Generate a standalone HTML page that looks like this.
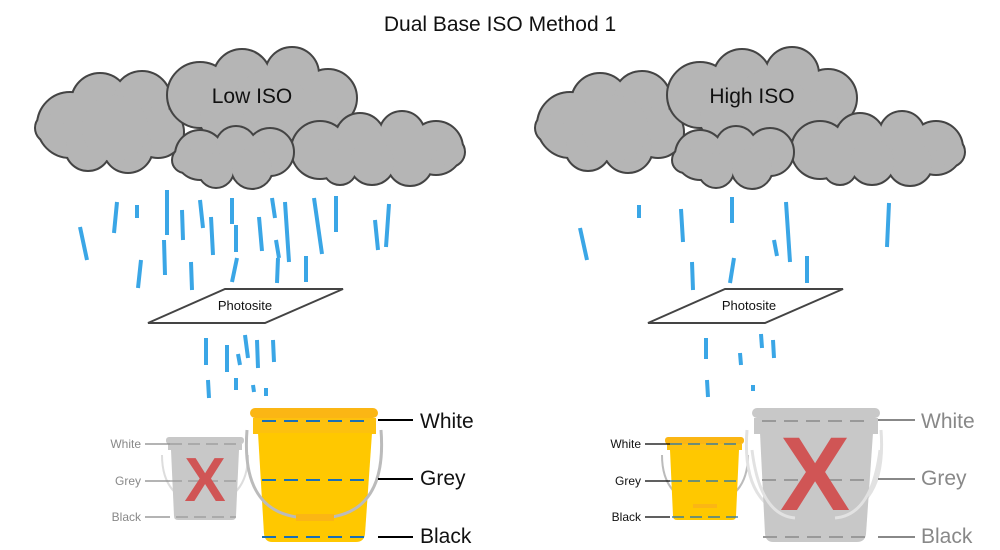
<!DOCTYPE html>
<html><head><meta charset="utf-8"><style>
html,body{margin:0;padding:0;background:#fff;}
svg{display:block;font-family:"Liberation Sans",sans-serif;}
</style></head><body>
<svg width="1000" height="550" viewBox="0 0 1000 550" xmlns="http://www.w3.org/2000/svg">
<defs>
<g id="cA"><circle cx="70" cy="125" r="32"/><circle cx="100" cy="102" r="28"/><circle cx="142" cy="100" r="28"/><circle cx="158" cy="132" r="25"/><circle cx="128" cy="148" r="24"/><circle cx="88" cy="148" r="22"/><circle cx="115" cy="128" r="33"/><circle cx="50" cy="128" r="14"/></g>
<g id="cB"><circle cx="200" cy="95" r="32"/><circle cx="242" cy="78" r="28"/><circle cx="292" cy="74" r="26"/><circle cx="328" cy="98" r="28"/><circle cx="270" cy="108" r="38"/><circle cx="222" cy="118" r="22"/><circle cx="318" cy="120" r="20"/></g>
<g id="cD"><circle cx="320" cy="150" r="28"/><circle cx="360" cy="138" r="24"/><circle cx="402" cy="134" r="22"/><circle cx="436" cy="148" r="26"/><circle cx="410" cy="163" r="22"/><circle cx="372" cy="162" r="22"/><circle cx="340" cy="168" r="16"/><circle cx="450" cy="152" r="14"/></g>
<g id="cC"><circle cx="200" cy="155" r="24"/><circle cx="236" cy="147" r="20"/><circle cx="270" cy="152" r="23"/><circle cx="252" cy="168" r="20"/><circle cx="216" cy="170" r="17"/><circle cx="185" cy="160" r="12"/></g>
</defs>
<text x="500" y="31" font-size="21" text-anchor="middle" fill="#111">Dual Base ISO Method 1</text>

<!-- clouds -->
<g id="clouds">
<g fill="#444" stroke="#444" stroke-width="4"><use href="#cA"/></g><g fill="#b5b5b5"><use href="#cA"/></g>
<g fill="#444" stroke="#444" stroke-width="4"><use href="#cB"/></g><g fill="#b5b5b5"><use href="#cB"/></g>
<g fill="#444" stroke="#444" stroke-width="4"><use href="#cD"/></g><g fill="#b5b5b5"><use href="#cD"/></g>
<g fill="#444" stroke="#444" stroke-width="4"><use href="#cC"/></g><g fill="#b5b5b5"><use href="#cC"/></g>
</g>
<use href="#clouds" transform="translate(500,0)"/>
<text x="252" y="103" font-size="21" text-anchor="middle" fill="#111">Low ISO</text>
<text x="752" y="103" font-size="21" text-anchor="middle" fill="#111">High ISO</text>

<!-- rain left -->
<g stroke="#3aa6e6" stroke-width="4" fill="none">
<path d="M80 227L87 260M117 202L114 233M137 205L137 218M167 190L167 235M182 210L183 240M200 200L203 228M211 217L213 255M232 198L232 224M236 225L236 252M272 198L275 218M285 202L289 262M314 198L322 254M336 196L336 232M375 220L378 250M389 204L386 247M141 260L138 288M164 240L165 275M191 262L192 290M237 258L232 282M259 217L262 251M276 240L279 258M278 258L277 283M306 256L306 282"/>
<path d="M206 338L206 365M227 345L227 372M238 354L240 365M245 335L248 358M257 340L258 368M273 340L274 362M208 380L209 398M236 378L236 390M253 385L254 392M266 388L266 396"/>
<!-- rain right -->
<path d="M580 228L587 260M639 205L639 218M681 209L683 242M732 197L732 223M786 202L790 262M774 240L777 256M807 256L807 283M889 203L887 247M692 262L693 290M734 258L730 283"/>
<path d="M706 338L706 359M740 353L741 365M761 334L762 348M773 340L774 358M707 380L708 397M753 385L753 391"/>
</g>

<!-- photosites -->
<g fill="#fff" stroke="#444" stroke-width="2">
<polygon points="148,323 225,289 343,289 265,323"/>
<polygon points="648,323 725,289 843,289 765,323"/>
</g>
<text x="245" y="310" font-size="13" text-anchor="middle" fill="#111">Photosite</text>
<text x="749" y="310" font-size="13" text-anchor="middle" fill="#111">Photosite</text>

<!-- left small grey bucket -->
<path d="M162 455 Q162 500 205 505 Q248 500 248 455" fill="none" stroke="#ddd" stroke-width="2"/>
<rect x="166" y="437" width="78" height="7" rx="3" fill="#c8c8c8"/>
<rect x="168" y="444" width="74" height="6" fill="#c8c8c8"/>
<path d="M171 450 L239 450 L236 516 Q236 520 232 520 L178 520 Q174 520 174 516 Z" fill="#c8c8c8"/>
<g stroke="#999" stroke-width="1.2" stroke-dasharray="12,6"><path d="M170 444H240M170 481H240M176 517H236"/></g>
<text x="205" y="501" font-size="62" text-anchor="middle" fill="#d05555" font-weight="bold">X</text>
<g stroke="#888" stroke-width="1.2"><path d="M145 444H170M145 481H170M145 517H170"/></g>
<g font-size="12" fill="#888" text-anchor="end"><text x="141" y="448">White</text><text x="141" y="485">Grey</text><text x="141" y="521">Black</text></g>

<!-- left big yellow bucket -->
<rect x="250" y="408" width="128" height="10" rx="5" fill="#fbb614"/>
<rect x="253" y="418" width="123" height="16" fill="#fdc10e"/>
<path d="M258 433 L372 433 L365 534 Q364 542 356 542 L272 542 Q265 542 264 534 Z" fill="#ffc800"/>
<path d="M247 430 Q240 520 314 518 Q388 520 381 430" fill="none" stroke="#bbb" stroke-width="3"/>
<rect x="296" y="514" width="38" height="7" fill="#fbb614"/>
<g stroke="#1a6fb5" stroke-width="2" stroke-dasharray="14,8"><path d="M262 421H370M262 480H370M262 537H370"/></g>
<g stroke="#000" stroke-width="2"><path d="M378 420H413M378 479H413M378 537H413"/></g>
<g font-size="21" fill="#111"><text x="420" y="428">White</text><text x="420" y="485">Grey</text><text x="420" y="543">Black</text></g>

<!-- right small yellow bucket -->
<path d="M662 455 Q662 500 705 505 Q748 500 748 455" fill="none" stroke="#bbb" stroke-width="2"/>
<rect x="665" y="437" width="79" height="7" rx="3" fill="#fbb614"/>
<rect x="667" y="444" width="75" height="6" fill="#fdc10e"/>
<path d="M670 450 L739 450 L736 516 Q736 520 732 520 L677 520 Q673 520 673 516 Z" fill="#ffc800"/>
<rect x="693" y="504" width="24" height="4" fill="#fbb614"/>
<g stroke="#1a6fb5" stroke-width="1.2" stroke-dasharray="12,6"><path d="M670 444H740M670 481H740M672 517H738"/></g>
<g stroke="#000" stroke-width="1.2"><path d="M645 444H670M645 481H670M645 517H670"/></g>
<g font-size="12" fill="#111" text-anchor="end"><text x="641" y="448">White</text><text x="641" y="485">Grey</text><text x="641" y="521">Black</text></g>

<!-- right big grey bucket -->
<path d="M747 430 Q740 520 814 518 Q888 520 881 430" fill="none" stroke="#e2e2e2" stroke-width="3"/>
<rect x="752" y="408" width="128" height="10" rx="5" fill="#c8c8c8"/>
<rect x="754" y="418" width="124" height="16" fill="#c8c8c8"/>
<path d="M760 433 L873 433 L866 534 Q865 542 857 542 L773 542 Q766 542 765 534 Z" fill="#c8c8c8"/>
<path d="M752 450 Q760 515 795 518 M880 450 Q872 515 835 518" fill="none" stroke="#e2e2e2" stroke-width="3"/>
<g stroke="#999" stroke-width="2" stroke-dasharray="14,8"><path d="M762 421H870M762 480H870M763 537H868"/></g>
<text x="815" y="510" font-size="105" text-anchor="middle" fill="#d05555" font-weight="bold">X</text>
<g stroke="#888" stroke-width="2"><path d="M878 420H915M878 479H915M878 537H915"/></g>
<g font-size="21" fill="#888"><text x="921" y="428">White</text><text x="921" y="485">Grey</text><text x="921" y="543">Black</text></g>
</svg>
</body></html>
